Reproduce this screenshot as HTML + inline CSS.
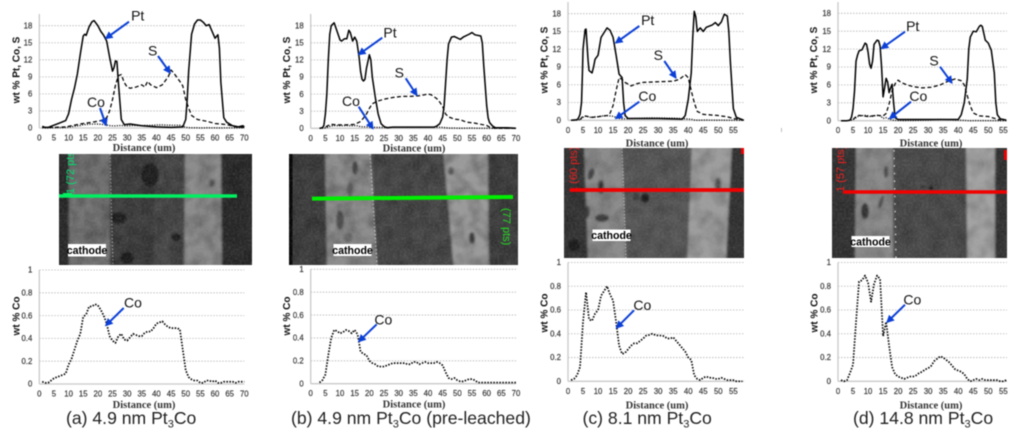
<!DOCTYPE html>
<html lang="en">
<head>
<meta charset="utf-8">
<title>Pt, Co and S composition line scans</title>
<style>
html,body{margin:0;padding:0;background:#fff;width:1024px;height:440px;overflow:hidden}
#figure{display:block;filter:blur(0.45px)}
.tick{font:7.8px "Liberation Sans",sans-serif;fill:#3a3a3a;stroke:#3a3a3a;stroke-width:.2}
.ytitle{font:bold 10px "Liberation Sans",sans-serif;fill:#111}
.xtitle{font:bold 10.5px "Liberation Serif",serif;fill:#333}
.note{font:14px "Liberation Sans",sans-serif;fill:#111;text-anchor:middle}
.cap{font:17.6px "Liberation Sans",sans-serif;fill:#222}
.cath{font:bold 10.6px "Liberation Sans",sans-serif;fill:#000;text-anchor:middle}
.arrow{stroke:#0b3fd6;stroke-width:2;marker-end:url(#arrowhead)}
.ptlabel{font:11px "Liberation Sans",sans-serif}
</style>
</head>
<body>
<svg id="figure" xmlns="http://www.w3.org/2000/svg" width="1024" height="440" viewBox="0 0 1024 440">
<defs>
<marker id="arrowhead" markerWidth="4" markerHeight="4" refX="3.2" refY="2" orient="auto"><path d="M0,0L4,2L0,4z" fill="#0b3fd6"/></marker>
<filter id="soft"><feGaussianBlur stdDeviation="1.1"/></filter>
<filter id="grain" x="0" y="0" width="100%" height="100%"><feTurbulence type="fractalNoise" baseFrequency="0.45" numOctaves="2" seed="4"/><feColorMatrix values="0 0 0 0 .5  0 0 0 0 .5  0 0 0 0 .5  1.6 0 0 0 -.55"/></filter>
<filter id="mottle" x="0" y="0" width="100%" height="100%"><feTurbulence type="fractalNoise" baseFrequency="0.07" numOctaves="2" seed="9"/><feColorMatrix values="0 0 0 0 0  0 0 0 0 0  0 0 0 0 0  1.8 0 0 0 -.62"/></filter>
<clipPath id="clipA"><rect x="59" y="154" width="193" height="111"/></clipPath>
<clipPath id="clipB"><rect x="289" y="154" width="229" height="111"/></clipPath>
<clipPath id="clipC"><rect x="564" y="148" width="180" height="110"/></clipPath>
<clipPath id="clipD"><rect x="832" y="148" width="175" height="110"/></clipPath>
</defs>

<g id="image-a" clip-path="url(#clipA)">
<g filter="url(#soft)">
<rect x="55" y="150" width="200" height="120" fill="#2c2c2c"/>
<rect x="69" y="150" width="42" height="120" fill="#737373"/>
<rect x="110" y="150" width="44" height="120" fill="#3c3c3c"/>
<rect x="154" y="150" width="32" height="120" fill="#474747"/>
<polygon points="185,150 221,150 222,270 184,270" fill="#8a8a8a"/>
<ellipse cx="150" cy="175" rx="9" ry="12" fill="#1e1e1e"/>
<ellipse cx="119" cy="218" rx="8" ry="6" fill="#1e1e1e"/>
<ellipse cx="176" cy="237" rx="5" ry="4" fill="#1e1e1e"/>
<ellipse cx="127" cy="258" rx="7" ry="6" fill="#1e1e1e"/>
<ellipse cx="212" cy="183" rx="3" ry="4" fill="#555"/>
</g>
<line x1="110" y1="154" x2="113" y2="265" stroke="#999" stroke-width="1.3" stroke-dasharray="1.5 2"/>
<rect x="59" y="154" width="193" height="111" filter="url(#mottle)" opacity=".3"/>
<rect x="59" y="154" width="193" height="111" filter="url(#grain)" opacity=".18"/>
<text class="ptlabel" transform="translate(74,194) rotate(-90)" fill="#00e070">1 (72 pts)</text>
<rect x="63" y="193" width="9" height="3" fill="#00f060"/>
<line x1="59" y1="196" x2="237" y2="196" stroke="#00f060" stroke-width="3.6"/>
</g>
<g><rect x="68" y="244" width="38" height="12.5" fill="#fff"/><text class="cath" x="87" y="254">cathode</text></g>

<g id="image-b" clip-path="url(#clipB)">
<g filter="url(#soft)">
<rect x="285" y="150" width="240" height="120" fill="#3d3d3d"/>
<polygon points="325,150 371,150 377,270 327,270" fill="#8c8c8c"/>
<polygon points="371,150 443,150 454,270 377,270" fill="#474747"/>
<polygon points="443,150 488,150 489,270 454,270" fill="#999"/>
<ellipse cx="355" cy="168" rx="3" ry="7" fill="#444"/>
<ellipse cx="340" cy="220" rx="4" ry="10" fill="#4c4c4c"/>
<ellipse cx="350" cy="190" rx="3" ry="8" fill="#606060"/>
<ellipse cx="348" cy="238" rx="5" ry="5" fill="#666"/>
<ellipse cx="472" cy="238" rx="3" ry="6" fill="#383838"/>
<ellipse cx="451" cy="171" rx="3" ry="4" fill="#555"/>
</g>
<rect x="289" y="154" width="3.5" height="111" fill="#050505"/>
<line x1="370" y1="154" x2="377" y2="265" stroke="#b8b8b8" stroke-width="1.5" stroke-dasharray="2 1.8"/>
<rect x="289" y="154" width="229" height="111" filter="url(#mottle)" opacity=".3"/>
<rect x="289" y="154" width="229" height="111" filter="url(#grain)" opacity=".18"/>
<line x1="312" y1="198.6" x2="513" y2="197" stroke="#00ee00" stroke-width="4"/>
<text class="ptlabel" transform="translate(503,208) rotate(90)" fill="#22dd22">(77 pts)</text>
</g>
<g><rect x="333.5" y="244" width="38" height="12" fill="#fff"/><text class="cath" x="352.5" y="254">cathode</text></g>

<g id="image-c" clip-path="url(#clipC)">
<g filter="url(#soft)">
<rect x="560" y="144" width="190" height="120" fill="#333"/>
<polygon points="584,144 622,144 626,262 588,262" fill="#8a8a8a"/>
<polygon points="622,144 692,144 687,262 626,262" fill="#565656"/>
<polygon points="692,144 732,144 726,262 687,262" fill="#9c9c9c"/>
<ellipse cx="645" cy="198" rx="4.5" ry="5" fill="#1f1f1f"/>
<ellipse cx="636" cy="197" rx="3" ry="4" fill="#3a3a3a"/>
<ellipse cx="591" cy="174" rx="3" ry="6" fill="#3c3c3c" transform="rotate(20 591 174)"/>
<ellipse cx="601" cy="187" rx="3" ry="7" fill="#333"/>
<ellipse cx="602" cy="218" rx="7" ry="4" fill="#3a3a3a"/>
<ellipse cx="587" cy="212" rx="2.5" ry="6" fill="#3a3a3a"/>
<ellipse cx="718" cy="185" rx="3" ry="7" fill="#5a5a5a"/>
<ellipse cx="574" cy="245" rx="6" ry="6" fill="#1e1e1e"/>
</g>
<line x1="622" y1="148" x2="626" y2="258" stroke="#b0b0b0" stroke-width="1.2" stroke-dasharray="1.5 1.8"/>
<rect x="564" y="148" width="180" height="110" filter="url(#mottle)" opacity=".22"/>
<rect x="564" y="148" width="180" height="110" filter="url(#grain)" opacity=".18"/>
<text class="ptlabel" transform="translate(577,193) rotate(-90)" fill="#f02020">1 (60 pts)</text>
<line x1="570" y1="190" x2="744" y2="190" stroke="#f20000" stroke-width="3.8"/>
<rect x="741" y="148" width="3" height="6" fill="#f20000"/>
</g>
<g><rect x="592.5" y="229.5" width="38" height="11.5" fill="#fff"/><text class="cath" x="611.5" y="239">cathode</text></g>

<g id="image-d" clip-path="url(#clipD)">
<g filter="url(#soft)">
<rect x="828" y="144" width="184" height="120" fill="#303030"/>
<polygon points="856,144 893,144 895,262 855,262" fill="#8a8a8a"/>
<rect x="893" y="144" width="73" height="120" fill="#484848"/>
<polygon points="966,144 995,144 995,262 967,262" fill="#a2a2a2"/>
<rect x="995" y="144" width="12" height="120" fill="#333"/>
<ellipse cx="865" cy="211" rx="4" ry="8" fill="#333"/>
<ellipse cx="886" cy="172" rx="2" ry="6" fill="#444"/>
<ellipse cx="881" cy="202" rx="2" ry="7" fill="#4c4c4c" transform="rotate(20 881 202)"/>
<ellipse cx="931" cy="188" rx="2.4" ry="2" fill="#111"/>
<ellipse cx="923" cy="187" rx="3" ry="1.2" fill="#222"/>
</g>
<line x1="894" y1="150" x2="896" y2="258" stroke="#d0d0d0" stroke-width="1.4" stroke-dasharray="1.6 6"/>
<rect x="832" y="148" width="175" height="110" filter="url(#mottle)" opacity=".2"/>
<rect x="832" y="148" width="175" height="110" filter="url(#grain)" opacity=".18"/>
<text class="ptlabel" transform="translate(844,192) rotate(-90)" fill="#f02020">1 (57 pts)</text>
<line x1="843" y1="192" x2="1007" y2="192" stroke="#f20000" stroke-width="3.6"/>
<rect x="1004" y="150" width="3" height="10" fill="#f20000"/>
</g>
<g><rect x="851.5" y="236" width="38" height="11" fill="#fff"/><text class="cath" x="870.5" y="245.5">cathode</text></g>

<rect x="781" y="128" width="1" height="4" fill="#bbb"/>

<g id="charts"></g>

<g id="annotations">
<g><text class="note" x="137.7" y="20.7">Pt</text><line class="arrow" x1="129" y1="21.7" x2="106" y2="38.3"/></g>
<g><text class="note" x="152.7" y="55.7">S</text><line class="arrow" x1="158" y1="56" x2="170" y2="72.7"/></g>
<g><text class="note" x="96" y="107">Co</text><line class="arrow" x1="100" y1="108" x2="106" y2="125"/></g>
<g><text class="note" x="133" y="307.7">Co</text><line class="arrow" x1="123.7" y1="308" x2="106" y2="325.3"/></g>

<g><text class="note" x="390" y="37.3">Pt</text><line class="arrow" x1="382.3" y1="37.7" x2="359" y2="54.3"/></g>
<g><text class="note" x="399.3" y="77.3">S</text><line class="arrow" x1="405.7" y1="78.3" x2="416.7" y2="95"/></g>
<g><text class="note" x="351" y="106">Co</text><line class="arrow" x1="358.7" y1="106.7" x2="372.7" y2="128.3"/></g>
<g><text class="note" x="383.3" y="324.3">Co</text><line class="arrow" x1="376.7" y1="324.3" x2="359" y2="341.3"/></g>

<g><text class="note" x="647.7" y="25">Pt</text><line class="arrow" x1="639.3" y1="26" x2="616" y2="42.7"/></g>
<g><text class="note" x="658.3" y="60">S</text><line class="arrow" x1="664.3" y1="61" x2="675.7" y2="77.7"/></g>
<g><text class="note" x="647.3" y="101">Co</text><line class="arrow" x1="639.3" y1="101.7" x2="616" y2="118.3"/></g>
<g><text class="note" x="642.3" y="310">Co</text><line class="arrow" x1="634" y1="310.3" x2="616.7" y2="327.7"/></g>

<g><text class="note" x="912.7" y="31">Pt</text><line class="arrow" x1="905" y1="31.7" x2="881.7" y2="48.3"/></g>
<g><text class="note" x="934" y="65.7">S</text><line class="arrow" x1="940" y1="66.7" x2="951.7" y2="82.7"/></g>
<g><text class="note" x="918.3" y="101">Co</text><line class="arrow" x1="911" y1="101.7" x2="890" y2="118.3"/></g>
<g><text class="note" x="912.3" y="304.3">Co</text><line class="arrow" x1="905" y1="304.7" x2="887.3" y2="322"/></g>
</g>

<text class="cap" x="66" y="424">(a) 4.9 nm Pt<tspan dy="3.5" font-size="11">3</tspan><tspan dy="-3.5">Co</tspan></text>
<text class="cap" x="291" y="424">(b) 4.9 nm Pt<tspan dy="3.5" font-size="11">3</tspan><tspan dy="-3.5">Co (pre-leached)</tspan></text>
<text class="cap" x="582.5" y="424">(c) 8.1 nm Pt<tspan dy="3.5" font-size="11">3</tspan><tspan dy="-3.5">Co</tspan></text>
<text class="cap" x="853" y="424">(d) 14.8 nm Pt<tspan dy="3.5" font-size="11">3</tspan><tspan dy="-3.5">Co</tspan></text>
</svg>

<script>
// Tick labels
const upperTicks = [0, 3, 6, 9, 12, 15, 18];
const lowerTicks = [0, 0.2, 0.4, 0.6, 0.8, 1];
const distanceTicks70 = [0, 5, 10, 15, 20, 25, 30, 35, 40, 45, 50, 55, 60, 65, 70];
const distanceTicks55 = [0, 5, 10, 15, 20, 25, 30, 35, 40, 45, 50, 55];

// Panel (a) 4.9 nm Pt3Co
const ptDistanceA = [1,2,3,5,7,9,10,11,12,13,14,15,15.5,16,17,18,18.7,20,21,22,23,24,25,25.5,26,26.5,27,28,29,31,35,40,45,49,50,50.5,51,52,53,54,55,56,57,58,59,60,61,61.5,62,63,64,66,68,69.5,70];
const ptValuesA = [0.3,0.1,0.1,0.5,0.9,1.3,2.5,5,7,9.5,13,16.2,16.5,16.3,17.8,18.7,18.9,18,17,16.3,15.3,12.5,10,10.6,11.8,11.7,8,1.5,0.6,0.7,0.4,0.2,0.1,0.2,1.5,5,10,16.5,18.3,19,19,18.6,18,18.2,17,15.8,16.4,14,8,1.8,1,0.4,0.2,0.4,0.2];
const sDistanceA = [1,5,9,12,15,18,21,23,24,25,26,27,28,29,30,31,33,35,36,37,38,40,42,44,45,46,48,49,50,51,52,54,57,60,64,67,70];
const sValuesA = [0.1,0.1,0.2,0.5,0.8,1,1.3,1.8,3,5,7.5,9.2,9.4,8,7.2,7,7.2,7.6,7.2,8.2,7.6,7.1,7.6,9,10.2,9.6,8.2,7.4,5,3.5,2.2,1.5,1.2,0.8,0.6,0.2,0.1];
const coStartA = 1;
const coValuesA = [0.02,0.01,0.01,0.03,0.05,0.06,0.07,0.08,0.09,0.17,0.22,0.3,0.38,0.44,0.59,0.61,0.68,0.68,0.7,0.69,0.65,0.6,0.53,0.42,0.38,0.36,0.42,0.44,0.39,0.38,0.41,0.44,0.43,0.42,0.42,0.45,0.46,0.46,0.49,0.53,0.54,0.55,0.52,0.5,0.49,0.49,0.49,0.48,0.3,0.12,0.06,0.04,0.03,0.03,0.01,0.01,0.03,0.03,0.02,0.03,0.01,0.01,0.02,0.02,0.02,0.02,0.01,0.02,0.02,0.02];

// Panel (b) 4.9 nm Pt3Co (pre-leached)
const ptDistanceB = [3,4,4.5,5,5.5,6,6.5,7,8,9,10,10.5,11.5,12.3,13,13.5,14.3,15,15.7,16.5,17,17.5,18,18.5,19,20,20.5,21,22,23,24,25,26,28,35,42,43,44,45,45.5,46,46.5,47,48,49,51,52,54,55,56,58,58.5,59,60,60.5,61,62,63,67,70];
const ptValuesB = [0,0.1,0.5,2.5,6,12,16.5,18,18.5,17,15.5,15.3,15.7,15.7,17.2,16.8,15.3,16,15.3,12.5,10,8.6,8.3,8.6,10.5,12.9,12,9,5.5,2.5,0.8,0.3,0.1,0.2,0.2,0.2,0.4,0.8,2,4,8,12,14.8,16,16.1,15.6,16,16.5,16.8,16.4,16.2,15,11,4,1.8,1,0.4,0.1,0.1,0];
const sDistanceB = [3,5,6,7,9,12,15,17,18,19,20,21,23,25,28,31,34,37,40,41,43,44,45,46,47,49,51,53,56,58,60,61,63,70];
const sValuesB = [0,0.2,0.5,0.7,0.6,0.6,0.7,1.2,1.8,2.5,3.5,4.3,4.8,5.1,5.4,5.6,5.6,5.7,6,5.9,5.2,4.6,3.8,2.5,2,1.6,1.5,1.1,0.9,0.7,0.5,0.2,0,0];
const coStartB = 3;
const coValuesB = [0.01,0.03,0.08,0.25,0.4,0.47,0.46,0.44,0.45,0.47,0.46,0.44,0.47,0.43,0.28,0.26,0.25,0.2,0.18,0.17,0.15,0.15,0.15,0.16,0.17,0.18,0.18,0.18,0.18,0.18,0.17,0.17,0.19,0.19,0.17,0.18,0.19,0.18,0.18,0.18,0.19,0.18,0.16,0.1,0.05,0.04,0.05,0.03,0.02,0.02,0.03,0.04,0.04,0.03,0.01,0.01,0.01,0.01,0.01,0.01,0.01,0.01,0.01,0.01,0.01,0.01,0.01,0.01];

// Panel (c) 8.1 nm Pt3Co
const ptDistanceC = [1,2,3,3.5,4,4.5,4.8,5,5.3,5.7,6,6.3,6.7,7,8,8.5,9,10,10.5,11,12,13,14,15,16,17,18,18.5,19,20,30,38,39,40,41,41.5,42,42.5,43,44,45,46,48,49,50,51,52,53,53.5,54,55,56,58,58.5];
const ptValuesC = [0,0.05,0.1,0.4,1,3,8,12,13.5,15.3,15.4,13,10,8.4,8,9,10.3,11,12.5,14,14.8,15.6,15.2,14,11,7.8,7.2,3,0.8,0.3,0.3,0.2,0.8,3.5,8,14,18.4,17.5,15,15.6,15,15.7,16.1,16.5,16,16.6,17.9,17.6,15,10,2,0.5,0.1,0];
const sDistanceC = [4,5,6,8,10,13,14,15,16,17,18,19,21,23,25,30,35,37,39,40,41,42,43,45,50,53,55,58];
const sValuesC = [0.1,0.7,0.7,0.5,0.6,0.8,1.2,2.5,5,7.2,6.9,6.4,5.8,6.2,6.4,6.5,6.6,6.9,7.7,7.2,5,3,1.5,1,0.8,0.6,0.3,0.1];
const coStartC = 1;
const coValuesC = [0.01,0.02,0.05,0.12,0.5,0.75,0.52,0.51,0.57,0.6,0.72,0.76,0.8,0.73,0.68,0.5,0.3,0.23,0.24,0.27,0.3,0.32,0.32,0.34,0.36,0.385,0.39,0.4,0.39,0.385,0.385,0.38,0.36,0.36,0.37,0.34,0.31,0.28,0.25,0.2,0.18,0.05,0.02,0.01,0.03,0.04,0.03,0.03,0.02,0.02,0.03,0.02,0.01,0.01,0.01,0,0,0];

// Panel (d) 14.8 nm Pt3Co
const ptDistanceD = [1,3,4,4.5,5,5.5,6,6.5,7,8,9,9.5,10,10.5,11,11.5,12,13,13.5,14,14.5,15,15.5,16,16.5,17,17.5,18,18.5,19,20,30,40,41,42,43,43.5,44,45,46,47,47.5,48,49,50,51,52,52.5,53,54,56];
const ptValuesD = [0,0,0.1,0.6,2,5,10,11,11.7,11.9,13,12.8,11.5,9.5,8.8,10,12.8,13.5,13.4,12.5,9,4,5.5,7.1,6.5,4.7,5.5,6.1,3,0.5,0.2,0.2,0.2,1,3,7,12,14,15,14.9,15.8,16,15.8,13.5,13,11.8,8,3,1,0.3,0.1];
const sDistanceD = [5,6,7,10,13,15,16,17,18,19,20,21,23,25,28,31,34,37,39,41,42,43,44,45,47,50,52,54];
const sValuesD = [0.2,0.7,0.9,0.7,0.9,0.8,1.2,2.8,5,6.2,6.8,6.4,6,5.7,5.5,5.6,6,6.7,7,6.7,6,4.2,2.5,1.3,0.8,0.7,0.4,0.1];
const coStartD = 1;
const coValuesD = [0.01,0,0.01,0.07,0.14,0.5,0.84,0.85,0.89,0.83,0.67,0.82,0.89,0.86,0.38,0.5,0.3,0.12,0.06,0.04,0.03,0.02,0.03,0.04,0.04,0.05,0.07,0.08,0.1,0.11,0.13,0.17,0.19,0.21,0.2,0.18,0.16,0.13,0.1,0.09,0.08,0.06,0.02,0,0.01,0.02,0.01,0.02,0.01,0.01,0.01,0.01,0.01,0,0,0.01];

const NS = 'http://www.w3.org/2000/svg';
const chartsRoot = document.getElementById('charts');

function make(tag, attrs, parent) {
  const node = document.createElementNS(NS, tag);
  for (const k in attrs) node.setAttribute(k, attrs[k]);
  parent.appendChild(node);
  return node;
}

function drawAxes(g, box, yMax, yTicks, xTicks, yLabel) {
  const sx = v => box.x0 + v * box.pxPerUnit;
  const sy = v => box.y0 - (v / yMax) * (box.y0 - box.yMaxPx);
  yTicks.forEach(t => {
    if (t > 0) {
      const grid = make('line', {x1: box.x0, x2: box.xEnd, y1: sy(t), y2: sy(t), stroke: '#b5b5b5', 'stroke-width': 0.8, 'stroke-dasharray': '1.5 1.5'}, g);
      
      
    }
    const lab = make('text', {class: 'tick', x: box.x0 - 7, y: sy(t) + 2.7, 'text-anchor': 'end'}, g);
    lab.textContent = String(t);
    
    
  });
  xTicks.forEach(t => {
    const lab = make('text', {class: 'tick', x: sx(t), y: box.y0 + 12.5, 'text-anchor': 'middle'}, g);
    lab.textContent = String(t);
    
    
  });
  const yAxis = make('line', {x1: box.x0, x2: box.x0, y1: box.axisTop, y2: box.y0, stroke: '#c9c9c9', 'stroke-width': 1.3}, g);
  
  
  const xAxis = make('line', {x1: box.x0, x2: box.xEnd, y1: box.y0, y2: box.y0, stroke: '#c9c9c9', 'stroke-width': 1.3}, g);
  
  
  const xt = make('text', {class: 'xtitle', x: box.xTitleX, y: box.y0 + box.xTitleDy, 'text-anchor': 'middle'}, g);
  xt.textContent = 'Distance (um)';
  
  
  const yt = make('text', {class: 'ytitle', 'text-anchor': 'middle', transform: 'translate(' + box.yTitleX + ',' + box.yTitleY + ') rotate(-90)'}, g);
  yt.textContent = yLabel;
  
  
  return {sx, sy};
}

function drawSeries(g, scale, xs, ys, style, name) {
  const pts = xs.map((x, i) => scale.sx(x).toFixed(2) + ',' + scale.sy(ys[i]).toFixed(2)).join(' ');
  const line = make('polyline', Object.assign({points: pts, fill: 'none', stroke: '#000', 'stroke-linejoin': 'round'}, style), g);
  
  
}

function coDistances(start, values) {
  return values.map((v, i) => start + i);
}

function drawPanel(p) {
  const g = make('g', {}, chartsRoot);
  
  
  const upper = make('g', {}, g);
  
  
  const lower = make('g', {}, g);
  
  

  const upScale = drawAxes(upper, p.up, 18, upperTicks, p.xTicks, 'wt % Pt, Co, S');
  const coX = coDistances(p.coStart, p.co);
  drawSeries(upper, upScale, coX, p.co, {'stroke-width': 1.3, 'stroke-dasharray': '1.1 1.4'}, 'co-series-upper');
  drawSeries(upper, upScale, p.sX, p.sY, {'stroke-width': 1.25, 'stroke-dasharray': '4 2.4'}, 's-series');
  drawSeries(upper, upScale, p.ptX, p.ptY, {'stroke-width': 1.5}, 'pt-series');

  const lowScale = drawAxes(lower, p.low, 1, lowerTicks, p.xTicks, 'wt % Co');
  drawSeries(lower, lowScale, coX, p.co, {'stroke-width': 1.7, 'stroke-dasharray': '1.5 1.5'}, 'co-series-lower');
}

drawPanel({
  id: 'a', ptX: ptDistanceA, ptY: ptValuesA, sX: sDistanceA, sY: sValuesA, co: coValuesA, coStart: coStartA, xTicks: distanceTicks70,
  up: {x0: 39.3, xEnd: 244.3, pxPerUnit: 2.9286, y0: 128, yMaxPx: 25.7, axisTop: 14, xTitleX: 144, xTitleDy: 23, yTitleX: 19.5, yTitleY: 70},
  low: {x0: 39.3, xEnd: 244.3, pxPerUnit: 2.9286, y0: 384, yMaxPx: 270, axisTop: 270, xTitleX: 144, xTitleDy: 24, yTitleX: 19.5, yTitleY: 316}
});
drawPanel({
  id: 'b', ptX: ptDistanceB, ptY: ptValuesB, sX: sDistanceB, sY: sValuesB, co: coValuesB, coStart: coStartB, xTicks: distanceTicks70,
  up: {x0: 310.7, xEnd: 516, pxPerUnit: 2.933, y0: 128.3, yMaxPx: 25.7, axisTop: 14, xTitleX: 414, xTitleDy: 23, yTitleX: 290.2, yTitleY: 70},
  low: {x0: 310.7, xEnd: 516, pxPerUnit: 2.933, y0: 383.7, yMaxPx: 269.3, axisTop: 269.3, xTitleX: 414, xTitleDy: 24, yTitleX: 290.2, yTitleY: 316}
});
drawPanel({
  id: 'c', ptX: ptDistanceC, ptY: ptValuesC, sX: sDistanceC, sY: sValuesC, co: coValuesC, coStart: coStartC, xTicks: distanceTicks55,
  up: {x0: 568, xEnd: 744, pxPerUnit: 3.006, y0: 120.3, yMaxPx: 13.7, axisTop: 2, xTitleX: 657, xTitleDy: 26, yTitleX: 547.5, yTitleY: 60},
  low: {x0: 568, xEnd: 744, pxPerUnit: 3.006, y0: 381.3, yMaxPx: 262.5, axisTop: 262.5, xTitleX: 657, xTitleDy: 27, yTitleX: 547.5, yTitleY: 313}
});
drawPanel({
  id: 'd', ptX: ptDistanceD, ptY: ptValuesD, sX: sDistanceD, sY: sValuesD, co: coValuesD, coStart: coStartD, xTicks: distanceTicks55,
  up: {x0: 838, xEnd: 1007, pxPerUnit: 3.006, y0: 120.7, yMaxPx: 13.3, axisTop: 2, xTitleX: 931, xTitleDy: 26, yTitleX: 817, yTitleY: 60},
  low: {x0: 838, xEnd: 1007, pxPerUnit: 3.006, y0: 381.3, yMaxPx: 262.5, axisTop: 262.5, xTitleX: 931, xTitleDy: 27, yTitleX: 817.5, yTitleY: 313}
});
</script>
</body>
</html>
